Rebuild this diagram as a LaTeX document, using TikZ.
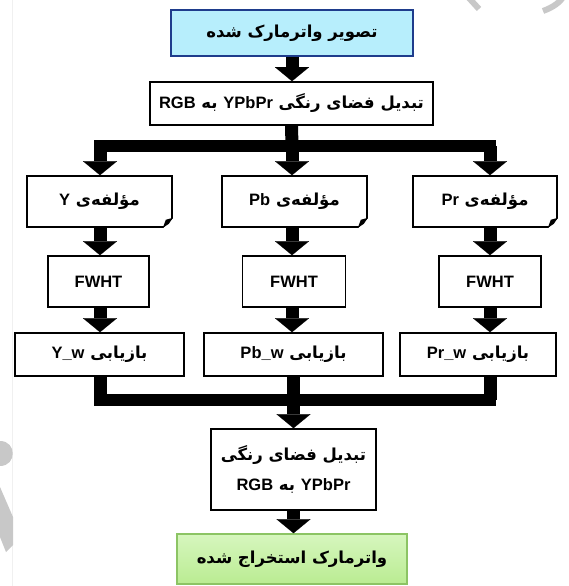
\documentclass[tikz,border=0pt]{standalone}
\usepackage{fontspec}
\setmainfont{Liberation Sans}
\newfontfamily\fafont[Script=Arabic]{DejaVu Sans}
\TeXXeTstate=1
\usepackage{tikz}
\usetikzlibrary{positioning,arrows.meta,calc}
\definecolor{wmBlue}{RGB}{183,238,252}
\definecolor{wmBlueLine}{RGB}{30,60,140}
\definecolor{wmGreenTop}{RGB}{214,246,190}
\definecolor{wmGreenBot}{RGB}{186,236,146}
\definecolor{wmGreenLine}{RGB}{140,196,100}
\definecolor{wmGray}{RGB}{200,200,200}
\newcommand{\fa}[1]{{\fafont\bfseries\beginR #1\endR}}
\newcommand{\lt}[1]{{\normalfont\bfseries #1}}
\newcommand{\curl}[1]{%
  \fill[white] ($(#1.south east)+(-10,0.8)$) -- ($(#1.south east)+(0.8,0.8)$) -- ($(#1.south east)+(0.8,-10)$) -- cycle;
  \fill ($(#1.south east)+(-10,0)$) -- ($(#1.south east)+(-7,-8)$) -- ($(#1.south east)+(0,-10)$) -- ($(#1.south east)+(-4,-4)$) -- cycle;}
\tikzset{
  box/.style={draw, line width=1.6pt, fill=white, inner sep=0pt, align=center,
    font=\fontsize{16.5}{30}\selectfont},
  flow/.style={line width=13pt, -{Triangle[length=14pt,width=34pt,line width=0.1pt]}},
  bus/.style={line width=12pt, line cap=rect}
}

\begin{document}
\begin{tikzpicture}[x=1pt,y=-1pt]
  \useasboundingbox (0,0) rectangle (568,586);

  % faint marks of the page
  \draw[black!6] (12,0) -- (12,586);
  \fill[wmGray] (0,441) .. controls (17,441) and (17,466) .. (0,466) -- cycle;
  \fill[wmGray] (0,487) -- (13,517) -- (13,545) -- (6,552) -- (0,537) -- cycle;
  \draw[wmGray, line width=6pt] (468,-3) -- (479,9);
  \draw[wmGray, line width=6pt] (543,11) .. controls (554,7) and (560,2) .. (564,-4);

  % input and colour conversion
  \node[box, fill=wmBlue, draw=wmBlueLine, minimum width=242, minimum height=46] (img) at (292,33)
    {\fa{تصویر واترمارک شده}};
  \node[box, minimum width=283, minimum height=43] (conv) at (291.5,103.5)
    {\fa{تبدیل فضای رنگی \lt{YPbPr} به \lt{RGB}}};

  % components
  \node[box, minimum width=145, minimum height=51] (compY) at (99.5,201.5)
    {\fa{مؤلفه^^^^200cی \lt{Y}}};
  \node[box, minimum width=145, minimum height=51] (compPb) at (294.5,201.5)
    {\fa{مؤلفه^^^^200cی \lt{Pb}}};
  \node[box, minimum width=144, minimum height=51] (compPr) at (485,201.5)
    {\fa{مؤلفه^^^^200cی \lt{Pr}}};
  \curl{compY}
  \curl{compPb}
  \curl{compPr}

  % transform
  \node[box, minimum width=101, minimum height=51] (fwY) at (98.5,281.5) {\lt{FWHT}};
  \node[box, minimum width=103, minimum height=51] (fwPb) at (294,281.5) {\lt{FWHT}};
  \node[box, minimum width=102, minimum height=51] (fwPr) at (490,281.5) {\lt{FWHT}};

  % recovery
  \node[box, minimum width=169, minimum height=43] (recY) at (99.5,354.5)
    {\fa{بازیابی \lt{Y\_w}}};
  \node[box, minimum width=179, minimum height=43] (recPb) at (293.5,354.5)
    {\fa{بازیابی \lt{Pb\_w}}};
  \node[box, minimum width=156, minimum height=43] (recPr) at (478,354.5)
    {\fa{بازیابی \lt{Pr\_w}}};

  % back conversion and output
  \node[box, minimum width=165, minimum height=81] (back) at (293.5,469.5)
    {\fa{تبدیل فضای رنگی}\\\fa{\lt{YPbPr} به \lt{RGB}}};
  \node[box, draw=wmGreenLine, top color=wmGreenTop, bottom color=wmGreenBot,
    minimum width=230, minimum height=50] (wm) at (292,559)
    {\fa{واترمارک استخراج شده}};

  % junctions
  \coordinate (splitL) at (100,146);
  \coordinate (splitM) at (292,146);
  \coordinate (splitR) at (490,146);
  \coordinate (joinL) at (100,400);
  \coordinate (joinR) at (490,400);

  % arrows
  \draw[flow] (img) -- (img.south |- conv.north);
  \draw[bus] (splitL) -- (splitR);
  \draw[line width=13pt] (conv.south) -- (splitM);
  \draw[flow] (splitL) -- (splitL |- compY.north);
  \draw[flow] (splitM) -- (splitM |- compPb.north);
  \draw[flow] (splitR) -- (splitR |- compPr.north);
  \draw[flow] (compY.south -| splitL) -- (splitL |- fwY.north);
  \draw[flow] (compPb.south -| splitM) -- (splitM |- fwPb.north);
  \draw[flow] (compPr.south -| splitR) -- (splitR |- fwPr.north);
  \draw[flow] (fwY.south -| splitL) -- (splitL |- recY.north);
  \draw[flow] (fwPb.south -| splitM) -- (splitM |- recPb.north);
  \draw[flow] (fwPr.south -| splitR) -- (splitR |- recPr.north);
  \draw[bus] (joinL) -- (joinR);
  \draw[line width=13pt] (recY.south -| joinL) -- (joinL);
  \draw[line width=13pt] (recPr.south -| joinR) -- (joinR);
  \draw[flow] (recPb.south) -- (back.north);
  \draw[flow] (back) -- (back.south |- wm.north);
\end{tikzpicture}
\end{document}
